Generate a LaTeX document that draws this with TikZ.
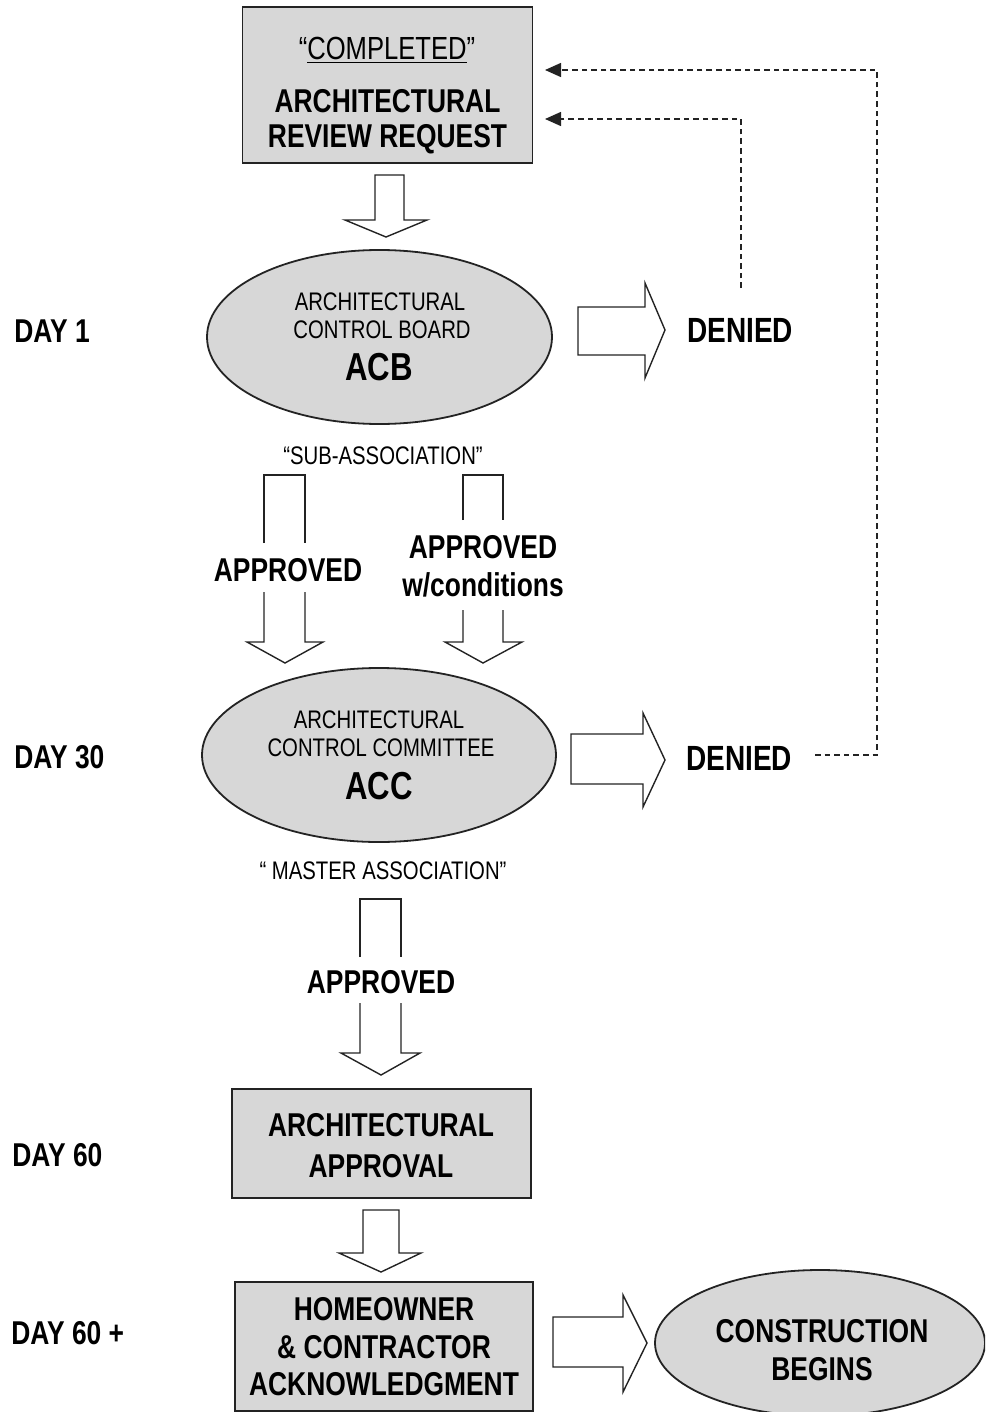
\documentclass[tikz,border=0pt]{standalone}
\usepackage{fontspec}
\setmainfont{Liberation Sans}[FakeStretch=0.8]
\usetikzlibrary{arrows.meta,shapes.geometric}
\definecolor{fillgray}{RGB}{215,215,215}
\definecolor{edge}{RGB}{35,35,35}
\begin{document}
\begin{tikzpicture}[x=0.5pt,y=-0.5pt,
  box/.style={draw=edge,fill=fillgray,line width=0.9pt,inner sep=0pt},
  oval/.style={draw=edge,fill=fillgray,line width=0.9pt,ellipse,inner sep=0pt},
  barrow/.style={draw=edge,fill=white,line width=0.7pt,line join=miter},
  bline/.style={draw=edge,line width=0.7pt,line join=miter},
  txt/.style={inner sep=0pt,anchor=center,text=black,text depth=0pt},
  bigb/.style={txt,font=\fontsize{16.5}{19}\selectfont\bfseries},
  smalltxt/.style={txt,font=\fontsize{12.7}{15}\selectfont},
  hugeb/.style={txt,font=\fontsize{19.5}{22}\selectfont\bfseries},
  daylbl/.style={inner sep=0pt,anchor=west,text depth=0pt,font=\fontsize{16.5}{19}\selectfont\bfseries},
  back/.style={draw=edge,line width=0.7pt,dash pattern=on 2.8pt off 2pt,-{Triangle[length=8pt,width=7pt]}}
]
\useasboundingbox (0,0) rectangle (985,1412);
\clip (0,0) rectangle (985,1412);

% ---- shapes ----
\node[box,minimum width=145pt,minimum height=78pt] (req) at (387.5,85) {};
\node[oval,minimum width=172.5pt,minimum height=87pt] (acb) at (379.5,337) {};
\node[oval,minimum width=177pt,minimum height=87pt] (acc) at (379,755) {};
\node[box,minimum width=149.5pt,minimum height=54.5pt] (appr) at (381.5,1143.5) {};
\node[box,minimum width=149pt,minimum height=64.5pt] (ack) at (384,1346.5) {};
\node[oval,minimum width=165pt,minimum height=73pt] (cons) at (820,1343) {};

% ---- texts ----
\node[txt,font=\fontsize{16}{19}\selectfont] (tcomp) at (387,48) {“\underline{COMPLETED}”};
\node[bigb] (treq1) at (387.5,101) {ARCHITECTURAL};
\node[bigb] (treq2) at (387.5,136) {REVIEW REQUEST};

\node[smalltxt] (tacb1) at (380,302) {ARCHITECTURAL};
\node[smalltxt] (tacb2) at (382,330) {CONTROL BOARD};
\node[hugeb] (tacb3) at (379,367) {ACB};

\node[smalltxt] (tsub) at (383,456) {“SUB-ASSOCIATION”};
\node[bigb] (tapl) at (288,570) {APPROVED};
\node[bigb] (tapr1) at (483,547) {APPROVED};
\node[bigb] (tapr2) at (483,585) {w/conditions};

\node[smalltxt] (tacc1) at (379,720) {ARCHITECTURAL};
\node[smalltxt] (tacc2) at (381,748) {CONTROL COMMITTEE};
\node[hugeb] (tacc3) at (379,786) {ACC};

\node[smalltxt] (tmas) at (383,871) {“ MASTER ASSOCIATION”};
\node[bigb] (tapb) at (381,982) {APPROVED};

\node[bigb] (tappr1) at (381,1125) {ARCHITECTURAL};
\node[bigb] (tappr2) at (381,1166) {APPROVAL};

\node[bigb] (tack1) at (384,1309) {HOMEOWNER};
\node[bigb] (tack2) at (384,1347) {\& CONTRACTOR};
\node[bigb] (tack3) at (384,1384) {ACKNOWLEDGMENT};

\node[bigb] (tcons1) at (822,1331) {CONSTRUCTION};
\node[bigb] (tcons2) at (822,1369) {BEGINS};

\node[bigb,font=\fontsize{17.5}{20}\selectfont\bfseries] (den1) at (740,330.5) {DENIED};
\node[bigb,font=\fontsize{17.5}{20}\selectfont\bfseries] (den2) at (739,758.5) {DENIED};

\node[daylbl] (day1) at (14,331) {DAY 1};
\node[daylbl] (day30) at (14,757) {DAY 30};
\node[daylbl] (day60) at (12,1155) {DAY 60};
\node[daylbl] (day60p) at (11,1333) {DAY 60 +};

% ---- block arrows ----
\draw[barrow] (375,175) -- (404,175) -- (404,220) -- (427,220) -- (386,237) -- (345,220) -- (375,220) -- cycle;
\draw[barrow] (578,307) -- (645,307) -- (645,283) -- (665,330) -- (645,378) -- (645,355) -- (578,355) -- cycle;
\draw[barrow] (571,734) -- (643,734) -- (643,713) -- (665,760) -- (643,807) -- (643,784) -- (571,784) -- cycle;
\draw[barrow] (363,1210) -- (399,1210) -- (399,1253) -- (421,1253) -- (381,1272) -- (339,1253) -- (363,1253) -- cycle;
\draw[barrow] (553,1317) -- (623,1317) -- (623,1295) -- (647,1343) -- (623,1392) -- (623,1367) -- (553,1367) -- cycle;

% broken-shaft arrows
\draw[bline] (264,543) -- (264,475) -- (305,475) -- (305,543);
\draw[bline] (264,592) -- (264,642) -- (247,642) -- (285,663) -- (323,642) -- (305,642) -- (305,592);

\draw[bline] (463,520) -- (463,475) -- (503,475) -- (503,520);
\draw[bline] (463,610) -- (463,642) -- (445,642) -- (483,663) -- (522,642) -- (503,642) -- (503,610);

\draw[bline] (360,957) -- (360,899) -- (401,899) -- (401,957);
\draw[bline] (360,1003) -- (360,1053) -- (341,1053) -- (381,1075) -- (420,1053) -- (401,1053) -- (401,1003);

% ---- dashed returns ----
\coordinate (d1s) at (741,288);
\coordinate (d1e) at (545,119);
\draw[back] (d1s) |- (d1e);
\coordinate (d2s) at (815,755);
\coordinate (d2c) at (877,755);
\coordinate (d2e) at (545,70);
\draw[back] (d2s) -- (d2c) |- (d2e);
\end{tikzpicture}
\end{document}
